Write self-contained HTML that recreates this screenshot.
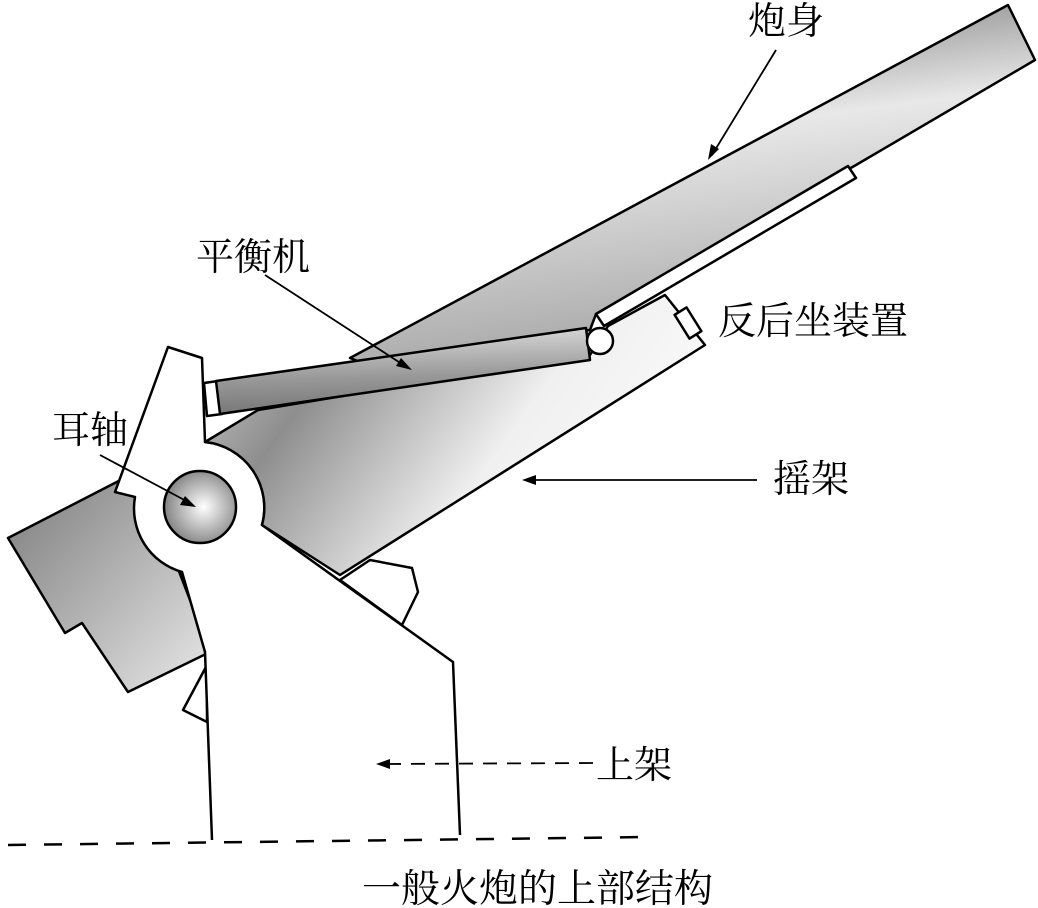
<!DOCTYPE html>
<html><head><meta charset="utf-8"><style>
html,body{margin:0;padding:0;background:#fff;}
svg{display:block}
text{font-family:"Liberation Serif","Noto Serif CJK SC",serif;fill:#000}
</style></head><body>
<svg width="1038" height="908" viewBox="0 0 1038 908" xmlns="http://www.w3.org/2000/svg">
<defs>
<linearGradient id="gb" x1="0" y1="0" x2="0.25" y2="1"><stop offset="0" stop-color="#5e5e5e"/><stop offset="0.45" stop-color="#e8e8e8"/><stop offset="1" stop-color="#a8a8a8"/></linearGradient>
<linearGradient id="gc" x1="0" y1="0" x2="1" y2="0.4"><stop offset="0" stop-color="#d0d0d0"/><stop offset="0.3" stop-color="#8e8e8e"/><stop offset="0.7" stop-color="#f0f0f0"/><stop offset="1" stop-color="#fafafa"/></linearGradient>
<linearGradient id="gl" x1="0" y1="0" x2="1" y2="1"><stop offset="0" stop-color="#7a7a7a"/><stop offset="1" stop-color="#e8e8e8"/></linearGradient>
<linearGradient id="gr" x1="0" y1="0" x2="0.1" y2="1"><stop offset="0" stop-color="#e0e0e0"/><stop offset="0.6" stop-color="#999"/><stop offset="1" stop-color="#777"/></linearGradient>
<radialGradient id="gt" cx="0.55" cy="0.5" r="0.6"><stop offset="0" stop-color="#fff"/><stop offset="1" stop-color="#777"/></radialGradient>
</defs>
<g stroke="#000" stroke-width="2.5" stroke-linejoin="round">
<polygon points="350,358 1008,5 1035,60 856,165 596,314 590,330 360,362" fill="url(#gb)"/>
<polygon points="596,314 848,166 856,178 604,326" fill="#fff"/>
<polygon points="8,538 140,470 210,652 128,692 82,623 65,633" fill="url(#gl)"/>
<polygon points="370,560 412,568 418,592 402,625 340,580" fill="#fff"/>
<polygon points="207,665 183,710 207,722" fill="#fff"/>
<path d="M460,835 L453,662 L262,525 A66,66 0 0 0 205,442 L202,358 L168,347 L115,492 L135,497 A66,66 0 0 0 182,572 L205,652 L212,840" fill="#fff"/>
<path d="M205,442 L258,410 L590,355 L608,326 L665,295 L705,345 L340,575 L262,525 A66,66 0 0 0 205,442 Z" fill="url(#gc)"/>
<rect x="681" y="309" width="14" height="28" fill="#fff" transform="rotate(-32 688 323)"/>
<polygon points="204,383 218,381 222,414 207,416" fill="#fff"/>
<polygon points="216,381 586,328 590,360 220,414" fill="url(#gr)"/>
<circle cx="600" cy="341" r="13" fill="#fff"/>
<circle cx="200" cy="507" r="36" fill="url(#gt)"/>
</g>
<line x1="8" y1="845" x2="650" y2="837" stroke="#000" stroke-width="2.5" stroke-dasharray="18,18"/>
<g stroke="#000" stroke-width="1.8" fill="none">
<line x1="776" y1="50" x2="712" y2="155"/>
<line x1="265" y1="275" x2="405" y2="366"/>
<line x1="100" y1="455" x2="190" y2="503"/>
<line x1="757" y1="480" x2="530" y2="480"/>
<line x1="593" y1="763" x2="385" y2="764" stroke-dasharray="14,10"/>
</g>
<g fill="#000">
<polygon points="708,160 711,144 719,149"/>
<polygon points="412,370 396,366 401,358"/>
<polygon points="196,507 180,505 185,496"/>
<polygon points="522,480 536,475 536,485"/>
<polygon points="376,764 390,759 390,769"/>
</g>
<g font-size="38">
<text x="748" y="34">炮身</text>
<text x="196" y="270">平衡机</text>
<text x="718" y="334">反后坐装置</text>
<text x="52" y="443">耳轴</text>
<text x="773" y="492">摇架</text>
<text x="596" y="778">上架</text>
<text x="362" y="902" font-size="39">一般火炮的上部结构</text>
</g>
</svg>
</body></html>
